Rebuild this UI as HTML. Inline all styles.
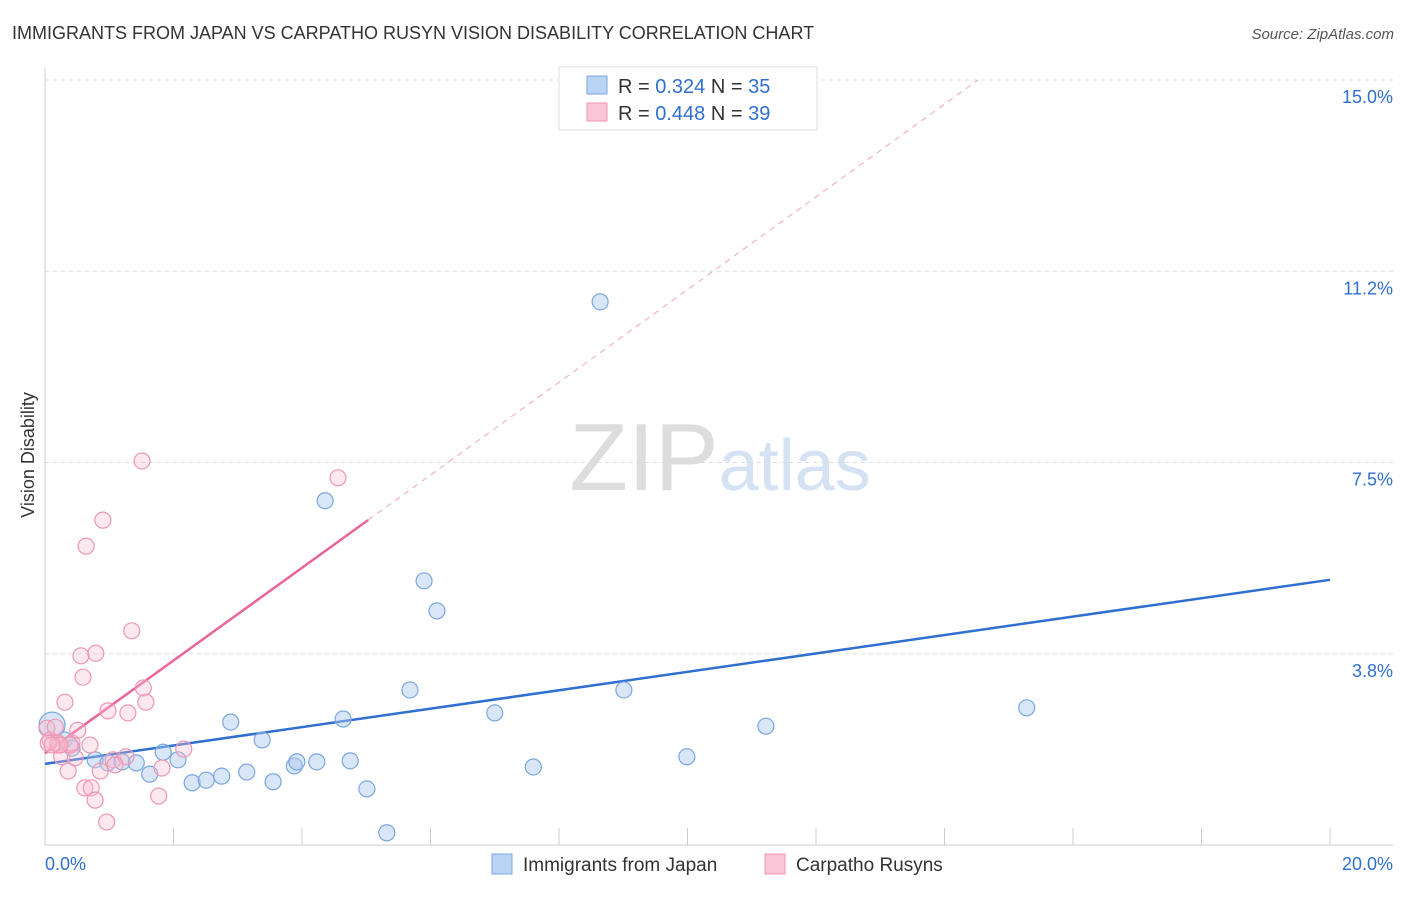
<!DOCTYPE html>
<html><head><meta charset="utf-8">
<style>
body{margin:0;background:#fff;font-family:"Liberation Sans",sans-serif;}
svg text{font-family:"Liberation Sans",sans-serif;}
</style></head>
<body>
<svg id="chart" width="1406" height="892" xmlns="http://www.w3.org/2000/svg">
<text x="12" y="39" font-size="18" fill="#333">IMMIGRANTS FROM JAPAN VS CARPATHO RUSYN VISION DISABILITY CORRELATION CHART</text>
<text x="1394" y="39" font-size="15" fill="#555" text-anchor="end" font-style="italic">Source: ZipAtlas.com</text>
<text x="720" y="490" font-size="96" text-anchor="middle" fill="#ddd" font-family="Liberation Serif"><tspan>ZIP</tspan><tspan fill="#d4e2f4" font-family="Liberation Sans" font-size="72">atlas</tspan></text>
<text transform="translate(34,455) rotate(-90)" font-size="18" fill="#333" text-anchor="middle">Vision Disability</text>
<g id="grid"></g><g id="axes"></g><g id="lines"></g><g id="pts"></g>
<g>
<rect x="559" y="67" width="258" height="63" fill="#fff" stroke="#ddd"/>
<rect x="587" y="76" width="20" height="18" fill="#b9d3f5" stroke="#7aa7e0"/>
<text x="618" y="93" font-size="20" fill="#333">R = <tspan fill="#2f6fd0">0.324</tspan>   N = <tspan fill="#2f6fd0">35</tspan></text>
<rect x="587" y="103" width="20" height="18" fill="#f8c6d6" stroke="#ee97b3"/>
<text x="618" y="120" font-size="20" fill="#333">R = <tspan fill="#2f6fd0">0.448</tspan>   N = <tspan fill="#2f6fd0">39</tspan></text>
</g>
<g>
<rect x="492" y="854" width="20" height="20" fill="#b9d3f5" stroke="#7aa7e0"/>
<text x="523" y="871" font-size="19" fill="#333">Immigrants from Japan</text>
<rect x="765" y="854" width="20" height="20" fill="#f8c6d6" stroke="#ee97b3"/>
<text x="796" y="871" font-size="19" fill="#333">Carpatho Rusyns</text>
</g>
</svg>
<script>
const yTicks=[3.75,7.5,11.25,15];
const yTickLabels=["3.8%","7.5%","11.2%","15.0%"];
const xTicks=[0,2,4,6,8,10,12,14,16,18,20];
const blueX=[0.11,0.30,0.42,0.78,0.98,1.20,1.42,1.63,1.84,2.07,2.29,2.51,2.75,2.89,3.14,3.38,3.55,3.88,3.92,4.23,4.36,4.64,4.75,5.01,5.32,5.68,5.90,6.10,7.00,7.60,8.64,9.01,9.99,11.22,15.28];
const blueY=[2.35,2.06,1.90,1.67,1.61,1.63,1.61,1.39,1.82,1.67,1.22,1.27,1.35,2.41,1.43,2.06,1.24,1.55,1.63,1.63,6.75,2.47,1.65,1.10,0.24,3.04,5.18,4.59,2.59,1.53,10.65,3.04,1.73,2.33,2.69];
const pinkX=[0.03,0.08,0.16,0.20,0.26,0.31,0.36,0.42,0.47,0.51,0.56,0.59,0.62,0.64,0.70,0.72,0.78,0.79,0.86,0.90,0.96,0.98,1.06,1.26,1.29,1.35,1.53,1.51,1.57,1.77,1.82,2.16,4.56,0.20,0.39,0.23,0.05,0.11,1.09];
const pinkY=[2.29,2.06,2.31,1.96,1.73,2.80,1.45,2.00,1.71,2.25,3.71,3.29,1.12,5.86,1.96,1.12,0.88,3.76,1.45,6.37,0.45,2.63,1.67,1.73,2.59,4.20,3.08,7.53,2.80,0.96,1.51,1.88,7.20,2.00,1.96,1.96,2.00,1.96,1.57];
const blueFit=[1.59,0.1805];
const pinkFit=[1.80,0.909];
const X=v=>45+v*64.25, Y=v=>845-v*51;
const NS="http://www.w3.org/2000/svg";
function mk(p,t,a){const e=document.createElementNS(NS,t);for(const k in a)e.setAttribute(k,a[k]);document.getElementById(p).appendChild(e);return e;}
yTicks.forEach((v,i)=>{
 const l=mk('grid','line',{x1:45,x2:1393,y1:Y(v),y2:Y(v),stroke:'#ddd','stroke-dasharray':'4,4'});
 
 
 const t=mk('grid','text',{x:1393,y:Y(v)+23,'font-size':18,fill:'#2f6fd0','text-anchor':'end'});
 t.textContent=yTickLabels[i];
 
 
});
const ax=mk('axes','line',{x1:45,x2:1393,y1:845,y2:845,stroke:'#ccc'});


const ay=mk('axes','line',{x1:45,x2:45,y1:68,y2:845,stroke:'#ccc'});


xTicks.forEach(v=>{
 const t=mk('axes','line',{x1:X(v),x2:X(v),y1:828,y2:845,stroke:'#ccc'});
 
 
});
const xl0=mk('axes','text',{x:45,y:870,'font-size':18,fill:'#2f6fd0'});xl0.textContent='0.0%';


const xl1=mk('axes','text',{x:1393,y:870,'font-size':18,fill:'#2f6fd0','text-anchor':'end'});xl1.textContent='20.0%';


blueX.forEach((x,i)=>{
 const c=mk('pts','circle',{cx:X(x),cy:Y(blueY[i]),r:i==0?13:8,fill:'rgba(170,200,240,0.45)',stroke:'#7aa7e0','stroke-width':1.2});
 
 
});
pinkX.forEach((x,i)=>{
 const c=mk('pts','circle',{cx:X(x),cy:Y(pinkY[i]),r:8,fill:'rgba(248,190,210,0.35)',stroke:'#ee97b3','stroke-width':1.2});
 
 
});
const bl=mk('lines','line',{x1:X(0),y1:Y(blueFit[0]),x2:X(20),y2:Y(blueFit[0]+blueFit[1]*20),stroke:'#2f6fd0','stroke-width':2.5});


const pEnd=5.03, pTop=(15-pinkFit[0])/pinkFit[1];
const pl=mk('lines','line',{x1:X(0),y1:Y(pinkFit[0]),x2:X(pEnd),y2:Y(pinkFit[0]+pinkFit[1]*pEnd),stroke:'#e8669a','stroke-width':2.5});


const pd=mk('lines','line',{x1:X(pEnd),y1:Y(pinkFit[0]+pinkFit[1]*pEnd),x2:X(pTop),y2:Y(15),stroke:'#f0a6c0','stroke-width':1,'stroke-dasharray':'6,5'});


</script>
</body></html>
